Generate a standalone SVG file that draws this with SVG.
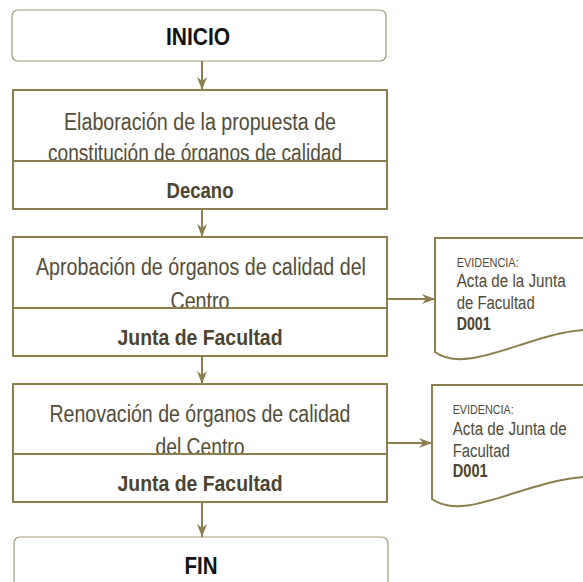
<svg xmlns="http://www.w3.org/2000/svg" width="583" height="582" viewBox="0 0 583 582">
<style>
.term{fill:#fff;stroke:#a39a74;stroke-width:1.2}
.box{fill:#fff;stroke:#8b7f4e;stroke-width:2}
.doc{fill:#fff;stroke:#8b7f4e;stroke-width:2}
.conn{fill:none;stroke:#8b7f4e;stroke-width:2}
.t{font-family:"Liberation Sans",Arial,sans-serif;font-size:23.5px;fill:#524d38;text-anchor:middle}
.tb{font-family:"Liberation Sans",Arial,sans-serif;font-size:21.5px;font-weight:bold;fill:#4a4430;text-anchor:middle}
.tt{font-family:"Liberation Sans",Arial,sans-serif;font-size:24px;font-weight:bold;fill:#111;text-anchor:middle}
.ev{font-family:"Liberation Sans",Arial,sans-serif;font-size:12.5px;fill:#4f4a36}
.et{font-family:"Liberation Sans",Arial,sans-serif;font-size:18px;fill:#4f4a36}
.eb{font-family:"Liberation Sans",Arial,sans-serif;font-size:18px;font-weight:bold;fill:#4a4430}
</style>
<defs>
<marker id="ah" viewBox="0 0 13 10" refX="13" refY="5" markerWidth="13" markerHeight="10" markerUnits="userSpaceOnUse" orient="auto">
<path d="M0,0 L13,5 L0,10 L4,5 z" fill="#8b7f4e"/>
</marker>
</defs>

<g id="inicio">
<rect class="term" x="12" y="10" width="374" height="51" rx="6"/>
<text class="tt" x="198" y="45" textLength="64" lengthAdjust="spacingAndGlyphs">INICIO</text>
</g>

<g id="elaboracion">
<rect class="box" x="13" y="90" width="374" height="71"/>
<text class="t" x="200" y="130" textLength="272" lengthAdjust="spacingAndGlyphs">Elaboración de la propuesta de</text>
<text class="t" x="195" y="161" textLength="294" lengthAdjust="spacingAndGlyphs">constitución de órganos de calidad</text>
<rect class="box" x="13" y="161" width="374" height="48"/>
<text class="tb" x="200" y="198" textLength="67" lengthAdjust="spacingAndGlyphs">Decano</text>
</g>

<g id="aprobacion">
<rect class="box" x="13" y="237" width="374" height="71"/>
<text class="t" x="201" y="275" textLength="330" lengthAdjust="spacingAndGlyphs">Aprobación de órganos de calidad del</text>
<text class="t" x="200" y="309" textLength="59" lengthAdjust="spacingAndGlyphs">Centro</text>
<rect class="box" x="13" y="308" width="374" height="48"/>
<text class="tb" x="200" y="345" textLength="165" lengthAdjust="spacingAndGlyphs">Junta de Facultad</text>
</g>

<g id="renovacion">
<rect class="box" x="13" y="384" width="374" height="70"/>
<text class="t" x="200" y="422" textLength="301" lengthAdjust="spacingAndGlyphs">Renovación de órganos de calidad</text>
<text class="t" x="200" y="455" textLength="89" lengthAdjust="spacingAndGlyphs">del Centro</text>
<rect class="box" x="13" y="454" width="374" height="48"/>
<text class="tb" x="200" y="491" textLength="165" lengthAdjust="spacingAndGlyphs">Junta de Facultad</text>
</g>

<g id="fin">
<rect class="term" x="14" y="537" width="374" height="60" rx="6"/>
<text class="tt" x="201" y="573.5" textLength="33" lengthAdjust="spacingAndGlyphs">FIN</text>
</g>

<g id="evidencia1">
<path class="doc" d="M435,352 V238 H600 V330 C540,325 470,378 435,352 Z"/>
<text class="ev" x="456.7" y="267" textLength="62" lengthAdjust="spacingAndGlyphs">EVIDENCIA:</text>
<text class="et" x="456.7" y="287" textLength="109" lengthAdjust="spacingAndGlyphs">Acta de la Junta</text>
<text class="et" x="456.7" y="309" textLength="78" lengthAdjust="spacingAndGlyphs">de Facultad</text>
<text class="eb" x="456.7" y="330" textLength="34" lengthAdjust="spacingAndGlyphs">D001</text>
</g>

<g id="evidencia2">
<path class="doc" d="M432,499 V385 H600 V477 C537,472 467,525 432,499 Z"/>
<text class="ev" x="452.7" y="414" textLength="61" lengthAdjust="spacingAndGlyphs">EVIDENCIA:</text>
<text class="et" x="452.7" y="435" textLength="114" lengthAdjust="spacingAndGlyphs">Acta de Junta de</text>
<text class="et" x="452.7" y="457" textLength="57" lengthAdjust="spacingAndGlyphs">Facultad</text>
<text class="eb" x="452.7" y="477" textLength="35" lengthAdjust="spacingAndGlyphs">D001</text>
</g>

<g id="connectors">
<line class="conn" x1="202" y1="61" x2="202" y2="90" marker-end="url(#ah)"/>
<line class="conn" x1="202" y1="209" x2="202" y2="237" marker-end="url(#ah)"/>
<line class="conn" x1="202" y1="356" x2="202" y2="384" marker-end="url(#ah)"/>
<line class="conn" x1="202" y1="502" x2="202" y2="537" marker-end="url(#ah)"/>
<line class="conn" x1="387" y1="299" x2="435" y2="299" marker-end="url(#ah)"/>
<line class="conn" x1="387" y1="443" x2="432" y2="443" marker-end="url(#ah)"/>
</g>
</svg>
